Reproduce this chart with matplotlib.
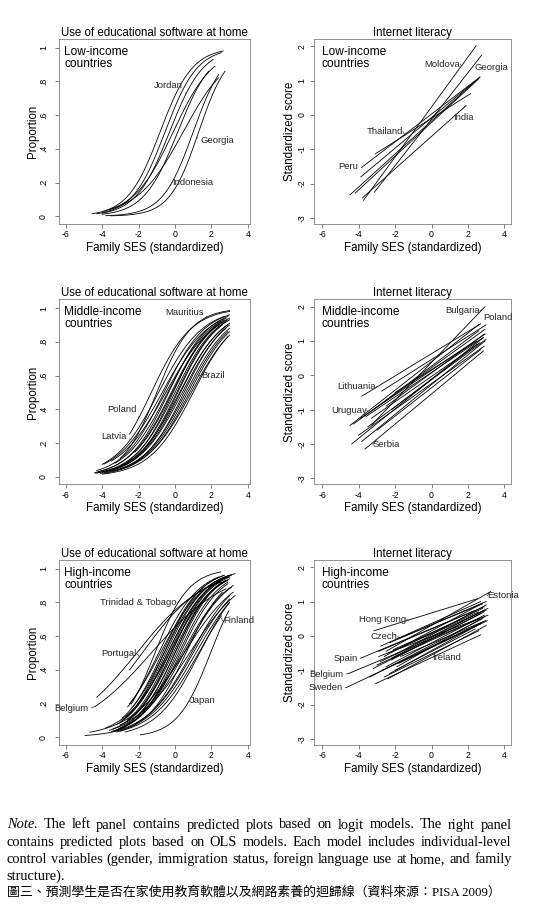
import numpy as np
import matplotlib
matplotlib.use('Agg')
import matplotlib.pyplot as plt

plt.rcParams['font.family'] = ['Liberation Sans', 'DejaVu Sans']

# ---- logit panels: per country start x, end x, x where p = .5, p at end x
low_logit_names = ['', '', 'Jordan', '', '', '', 'Indonesia', 'Georgia']
low_logit_xlo = [-4.55, -4.3, -4.0, -3.9, -4.0, -3.6, -3.8, -3.5]
low_logit_xhi = [2.65, 2.55, 2.1, 2.2, 1.85, 2.38, 2.4, 2.75]
low_logit_xmid = [-0.82, -0.55, -0.3, -0.1, 0.15, 0.45, 1.0, 1.3]
low_logit_phi = [0.98, 0.97, 0.93, 0.89, 0.86, 0.82, 0.84, 0.86]

mid_logit_names = ['Poland', 'Mauritius', 'Latvia', '', '', '', '', '', '', '', '',
                   '', '', '', '', '', '', '', 'Brazil', '', '', '', '']
mid_logit_xlo = [-2.5, -3.0, -4.0, -3.9, -3.5, -3.3, -4.4, -4.2, -3.0, -4.4, -3.8,
                 -2.8, -4.3, -3.6, -4.0, -2.6, -4.1, -3.4, -3.9, -4.0, -3.0, -4.3, -2.2]
mid_logit_xhi = [3.0, 3.0, 2.7, 2.8, 2.9, 2.5, 2.9, 3.0, 2.7, 2.8, 3.0,
                 2.6, 2.9, 3.0, 2.8, 3.0, 3.0, 2.9, 3.0, 2.9, 3.0, 3.0, 2.4]
mid_logit_xmid = [-1.3, -1.0, -0.9, -0.7, -0.5, -0.4, -0.35, -0.2, -0.1, 0.0, 0.1,
                  0.15, 0.25, 0.3, 0.4, 0.5, 0.6, 0.7, 0.8, 1.0, 0.9, -0.6, -0.15]
mid_logit_phi = [0.98, 0.985, 0.95, 0.94, 0.93, 0.92, 0.95, 0.94, 0.93, 0.92, 0.93,
                 0.90, 0.90, 0.91, 0.88, 0.90, 0.88, 0.86, 0.86, 0.83, 0.84, 0.96, 0.90]

high_logit_names = ['Trinidad & Tobago', 'Portugal', 'Belgium', '', 'Japan', 'Finland',
                    '', '', '', '', '', '', '', '', '', '', '', '', '', '', '', '',
                    '', '', '', '', '', '', '', '', '', '', '']
high_logit_xlo = [-2.4, -2.5, -4.4, -4.3, -1.9, -3.0, -4.94, -4.67, -2.74,
                  -3.2, -3.0, -2.8, -3.4, -2.6, -3.1, -2.9, -3.5, -2.5, -3.3, -2.7, -3.0,
                  -2.2, -3.6, -2.4, -3.2, -2.8, -2.0, -3.8, -2.6, -3.0, -2.2, -3.4, -2.9]
high_logit_xhi = [2.5, 2.6, 2.8, 2.5, 2.95, 2.55, 3.0, 3.2, 3.0,
                  2.9, 2.7, 3.0, 2.8, 3.1, 2.6, 3.3, 2.9, 2.8, 3.0, 2.5, 2.9,
                  2.7, 3.2, 3.0, 2.6, 3.1, 2.8, 2.9, 2.4, 3.3, 3.0, 3.0, 2.7]
high_logit_xmid = [-1.1, -1.8, -1.3, -2.1, 1.95, 1.3, 1.15, 0.5, 1.35,
                   -0.4, -0.6, -0.2, -0.1, -0.3, 0.0, -0.5, 0.2, -0.8, 0.1, -0.4, 0.3,
                   -0.2, 0.4, -0.6, 0.6, 0.5, 0.0, -0.3, -0.9, 0.8, 0.9, 1.0, -0.7]
high_logit_phi = [0.98, 0.93, 0.88, 0.92, 0.75, 0.72, 0.80, 0.86, 0.80,
                  0.95, 0.96, 0.95, 0.93, 0.96, 0.92, 0.97, 0.92, 0.95, 0.94, 0.93, 0.91,
                  0.94, 0.90, 0.96, 0.86, 0.89, 0.93, 0.93, 0.95, 0.84, 0.84, 0.82, 0.96]

# ---- OLS panels: per country line from (x0, y0) to (x1, y1)
low_ols_names = ['Moldova', 'Georgia', '', '', 'Peru', 'Thailand', '', 'India']
low_ols_x0 = [-3.74, -3.14, -4.48, -4.2, -3.84, -3.1, -3.89, -3.8]
low_ols_y0 = [-2.49, -2.25, -2.33, -2.28, -1.53, -1.14, -1.81, -2.42]
low_ols_x1 = [2.45, 2.76, 2.66, 2.6, 2.66, 2.15, 2.34, 1.9]
low_ols_y1 = [2.01, 1.74, 1.10, 1.05, 1.10, 0.62, 0.96, 0.27]

mid_ols_names = ['Bulgaria', 'Poland', 'Lithuania', '', '', 'Uruguay', '', '', '', '',
                 'Serbia', '', '', '', '', '', '', '']
mid_ols_x0 = [-3.3, -2.74, -3.84, -4.48, -4.3, -3.9, -3.6, -3.3, -4.39, -3.84,
              -3.66, -4.02, -3.0, -2.2, -3.5, -2.5, -3.2, -2.0]
mid_ols_y0 = [-1.45, -0.46, -0.61, -1.46, -1.42, -1.25, -1.2, -1.25, -2.0, -1.93,
              -2.15, -1.75, -1.6, -1.0, -1.5, -0.9, -1.0, -0.5]
mid_ols_x1 = [2.94, 3.0, 2.7, 2.63, 2.94, 2.94, 2.85, 2.66, 2.85, 2.94,
              2.85, 2.9, 2.7, 2.5, 3.0, 2.9, 2.6, 2.5]
mid_ols_y1 = [2.0, 1.47, 1.5, 1.49, 1.34, 1.2, 1.1, 0.95, 1.1, 1.0,
              0.71, 0.85, 0.75, 0.9, 1.05, 1.2, 1.3, 1.0]

high_ols_names = ['Estonia', 'Hong Kong', 'Czech', 'Spain', 'Belgium', 'Sweden', 'Ireland',
                  '', '', '', '', '', '', '', '', '', '', '', '', '', '', '', '', '', '',
                  '', '', '', '', '', '']
high_ols_x0 = [-2.5, -3.16, -1.79, -3.89, -4.57, -4.7, -3.07,
               -2.9, -2.6, -2.4, -2.8, -2.2, -2.5, -3.0, -2.0, -2.7, -2.3, -1.9, -2.6,
               -2.1, -1.7, -2.8, -2.4, -2.0, -3.2, -1.5, -2.9, -1.8, -2.3, -3.4, -2.2]
high_ols_y0 = [-0.45, 0.15, -0.07, -0.65, -1.1, -1.51, -1.39,
               -0.45, -0.6, -0.5, -0.75, -0.7, -0.9, -0.85, -0.55, -1.0, -1.1, -0.9, -1.2,
               -0.4, -0.6, -0.3, -1.25, -1.0, -0.95, -0.3, -0.6, -0.8, -0.2, -1.2, -0.65]
high_ols_x1 = [3.25, 2.52, 2.79, 2.34, 2.6, 3.07, 2.7,
               2.9, 2.8, 3.0, 3.1, 2.7, 2.9, 2.6, 3.0, 2.8, 2.5, 2.9, 2.6,
               2.6, 3.0, 2.7, 3.0, 2.4, 2.9, 2.8, 3.1, 2.7, 3.0, 2.8, 2.9]
high_ols_y1 = [1.29, 1.08, 0.93, 0.73, 0.49, 0.44, 0.03,
               0.85, 0.95, 0.75, 0.8, 0.65, 0.6, 0.5, 0.9, 0.4, 0.3, 0.55, 0.15,
               0.7, 0.45, 1.0, 0.3, 0.2, 0.7, 0.8, 0.6, 0.35, 1.0, 0.5, 0.75]

# label layout: (name, text x, text y, alignment, x where the leader meets the curve)
low_logit_labels = [('Jordan', 0.45, 0.775, 'right', 0.6), ('Georgia', 1.4, 0.45, 'left', 1.2),
                    ('Indonesia', -0.15, 0.2, 'left', -0.3)]
mid_logit_labels = [('Mauritius', 1.56, 0.976, 'right', 1.75), ('Poland', -2.1, 0.40, 'right', -2.0),
                    ('Latvia', -2.65, 0.24, 'right', -2.45), ('Brazil', 1.44, 0.6, 'left', 1.3)]
high_logit_labels = [('Trinidad & Tobago', 0.1, 0.80, 'right', 0.2), ('Portugal', -2.1, 0.497, 'right', -1.95),
                     ('Finland', 2.63, 0.69, 'left', 2.5), ('Belgium', -4.75, 0.17, 'right', -4.4),
                     ('Japan', 0.83, 0.22, 'left', 0.75)]
low_ols_labels = [('Moldova', 1.57, 1.47, 'right', 1.66), ('Georgia', 2.39, 1.37, 'left', 2.55),
                  ('India', 1.2, -0.07, 'left', 1.85), ('Thailand', -1.58, -0.49, 'right', -1.45),
                  ('Peru', -4.02, -1.5, 'right', -3.84)]
mid_ols_labels = [('Bulgaria', 2.66, 1.88, 'right', 2.8), ('Poland', 2.85, 1.67, 'left', 2.95),
                  ('Lithuania', -3.05, -0.34, 'right', -2.95), ('Uruguay', -3.56, -1.02, 'right', -3.45),
                  ('Serbia', -3.23, -2.02, 'left', -3.0)]
high_ols_labels = [('Estonia', 3.07, 1.17, 'left', 3.2), ('Hong Kong', -1.37, 0.47, 'right', -1.25),
                   ('Czech', -1.88, -0.02, 'right', -1.79), ('Spain', -4.07, -0.65, 'right', -3.89),
                   ('Belgium', -4.85, -1.12, 'right', -4.57), ('Sweden', -4.9, -1.51, 'right', -4.7),
                   ('Ireland', 0.05, -0.62, 'left', 0.0)]

fig = plt.figure(figsize=(5.4, 9.11), dpi=100)
bottoms = [0.7541, 0.4682, 0.1822]
groups = ['Low-income\ncountries', 'Middle-income\ncountries', 'High-income\ncountries']


def style(ax, left):
    if left:
        ax.set_xlim(-6.37, 4.12)
        ax.set_ylim(-0.046, 1.051)
        ax.set_yticks([0, 0.2, 0.4, 0.6, 0.8, 1])
        ax.set_yticklabels(['0', '.2', '.4', '.6', '.8', '1'], rotation=90, va='center')
        ax.set_title('Use of educational software at home', fontsize=8.3, pad=2.5)
        ax.set_ylabel('Proportion', fontsize=8.3)
        ax.yaxis.set_label_coords(-0.105, 0.5)
        ax.tick_params(axis='y', pad=5)
    else:
        ax.set_xlim(-6.46, 4.37)
        ax.set_ylim(-3.18, 2.21)
        ax.set_yticks([-3, -2, -1, 0, 1, 2])
        ax.set_yticklabels(['-3', '-2', '-1', '0', '1', '2'], rotation=90, va='center')
        ax.set_title('Internet literacy', fontsize=8.3, pad=2.5)
        ax.set_ylabel('Standardized score', fontsize=8.3)
        ax.yaxis.set_label_coords(-0.092, 0.5)
        ax.tick_params(axis='y', pad=2.5)
    ax.set_xticks([-6, -4, -2, 0, 2, 4])
    ax.set_xticklabels(['-6', '-4', '-2', '0', '2', '4'])
    ax.tick_params(direction='out', length=3, width=0.5, labelsize=6.3, color='0.3')
    ax.tick_params(axis='x', pad=1.5)
    ax.set_xlabel('Family SES (standardized)', fontsize=8.3, labelpad=2)
    for s in ax.spines.values():
        s.set_color('0.5')
        s.set_linewidth(0.6)


def leader(ax, name, lx, ly, ha, tx, ty):
    ax.annotate(name, xy=(tx, ty), xytext=(lx, ly), ha=ha, va='center', fontsize=6.8,
                color='0.15',
                arrowprops=dict(arrowstyle='-', lw=0.5, color='0.2', shrinkA=0, shrinkB=0,
                                relpos=(1, 0.5) if ha == 'right' else (0, 0.5)))


def logit_panel(ax, names, xlo, xhi, xmid, phi, labels):
    slopes = []
    for i in range(len(xlo)):
        b = np.log(phi[i] / (1 - phi[i])) / (xhi[i] - xmid[i])
        slopes.append(b)
        xs = np.linspace(xlo[i], xhi[i], 150)
        ax.plot(xs, 1 / (1 + np.exp(-b * (xs - xmid[i]))), color='black', lw=0.6)
    for name, lx, ly, ha, tx in labels:
        i = names.index(name)
        ty = 1 / (1 + np.exp(-slopes[i] * (tx - xmid[i])))
        leader(ax, name, lx, ly, ha, tx, ty)


def ols_panel(ax, names, x0, y0, x1, y1, labels):
    for i in range(len(x0)):
        ax.plot([x0[i], x1[i]], [y0[i], y1[i]], color='black', lw=0.6)
    for name, lx, ly, ha, tx in labels:
        i = names.index(name)
        ty = y0[i] + (y1[i] - y0[i]) * (tx - x0[i]) / (x1[i] - x0[i])
        leader(ax, name, lx, ly, ha, tx, ty)


logit_data = [(low_logit_names, low_logit_xlo, low_logit_xhi, low_logit_xmid, low_logit_phi, low_logit_labels),
              (mid_logit_names, mid_logit_xlo, mid_logit_xhi, mid_logit_xmid, mid_logit_phi, mid_logit_labels),
              (high_logit_names, high_logit_xlo, high_logit_xhi, high_logit_xmid, high_logit_phi, high_logit_labels)]
ols_data = [(low_ols_names, low_ols_x0, low_ols_y0, low_ols_x1, low_ols_y1, low_ols_labels),
            (mid_ols_names, mid_ols_x0, mid_ols_y0, mid_ols_x1, mid_ols_y1, mid_ols_labels),
            (high_ols_names, high_ols_x0, high_ols_y0, high_ols_x1, high_ols_y1, high_ols_labels)]

for row in range(3):
    axl = fig.add_axes([0.1093, bottoms[row], 0.3537, 0.2031])
    logit_panel(axl, *logit_data[row])
    style(axl, True)
    axl.text(0.028, 0.962, groups[row], transform=axl.transAxes, va='top', ha='left',
             fontsize=8.6, linespacing=0.95)
    axr = fig.add_axes([0.5815, bottoms[row], 0.3648, 0.2031])
    ols_panel(axr, *ols_data[row])
    style(axr, False)
    axr.text(0.039, 0.962, groups[row], transform=axr.transAxes, va='top', ha='left',
             fontsize=8.6, linespacing=0.95)

# ---- caption (justified note + Chinese figure title)
serif = ['Liberation Serif', 'DejaVu Serif']
note_lines = [
    [('Note.', 'italic'), 'The', 'left', 'panel', 'contains', 'predicted', 'plots', 'based', 'on',
     'logit', 'models.', 'The', 'right', 'panel'],
    'contains predicted plots based on OLS models. Each model includes individual-level'.split(),
    'control variables (gender, immigration status, foreign language use at home, and family'.split(),
]
W, H = 540.0, 911.0
renderer = fig.canvas.get_renderer()
baselines = [828.5, 846.0, 863.3]
for words, base in zip(note_lines, baselines):
    texts = []
    for w in words:
        st = 'normal'
        if isinstance(w, tuple):
            w, st = w
        texts.append(fig.text(0, 1 - base / H, w, fontsize=10.4, family=serif, style=st,
                              va='baseline', ha='left'))
    widths = [t.get_window_extent(renderer).width / W for t in texts]
    x0, x1 = 6.7 / W, 511.7 / W
    gap = (x1 - x0 - sum(widths)) / (len(texts) - 1)
    x = x0
    for t, w in zip(texts, widths):
        t.set_x(x)
        x += w + gap
fig.text(6.7 / W, 1 - 879.5 / H, 'structure).', fontsize=10.4, family=serif, va='baseline', ha='left')
fig.text(6.7 / W, 1 - 896.0 / H, '圖三、預測學生是否在家使用教育軟體以及網路素養的迴歸線（資料來源：PISA 2009）',
         fontsize=9.3, family=['Liberation Serif', 'Noto Sans CJK TC'], va='baseline', ha='left')

fig.savefig('out.png', dpi=100)
